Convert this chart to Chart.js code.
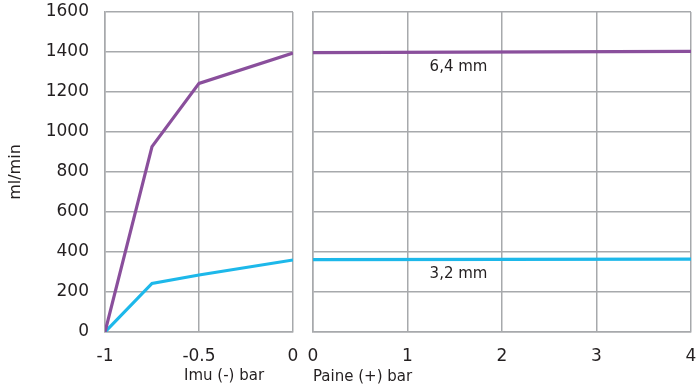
<!DOCTYPE html>
<html><head><meta charset="utf-8">
<script src="https://cdn.jsdelivr.net/npm/chart.js@4.4.1/dist/chart.umd.min.js"></script>
<style>
html,body{margin:0;padding:0;background:#fff;}
#wrap{position:relative;width:698px;height:389px;overflow:hidden;}
#c1{position:absolute;left:0;top:0;}
#c2{position:absolute;left:300px;top:0;}
#imu{position:absolute;left:184px;top:366px;font:15px "DejaVu Sans",sans-serif;color:#231f20;white-space:nowrap;line-height:18px;}
</style>
</head><body>
<div id="wrap">
<canvas id="c1" width="300" height="389"></canvas>
<canvas id="c2" width="398" height="389"></canvas>
<div id="imu">Imu (-) bar</div>
</div>
<script>
// ---- data ----
const vacuumX = [-1, -0.75, -0.5, 0];           // Imu (-) bar
const vacuum64 = [0, 927, 1243, 1395];          // 6,4 mm, ml/min
const vacuum32 = [0, 243, 285, 360];            // 3,2 mm, ml/min
const pressureX = [0, 4];                        // Paine (+) bar
const pressure64 = [1397, 1403];
const pressure32 = [362, 364];
const seriesNames = ['6,4 mm', '3,2 mm'];
const yTicks = [0, 200, 400, 600, 800, 1000, 1200, 1400, 1600];
const leftXTicks = [-1, -0.5, 0];
const rightXTicks = [0, 1, 2, 3, 4];

const PURPLE = '#8a4f9c';
const CYAN = '#1db8ea';
const GRID = '#a7a9ac';
const TXT = '#231f20';
const tickFont = {family: '"DejaVu Sans", sans-serif', size: 17};

function pts(xs, ys){ return xs.map((x,i)=>({x:x, y:ys[i]})); }
function noPad(s){ s.paddingTop = 0; s.paddingBottom = 0; s.paddingLeft = 0; s.paddingRight = 0; }

const labelPlugin = {
  id: 'seriesLabels',
  afterDatasetsDraw(chart, args, opts){
    if(!opts.items) return;
    const ctx = chart.ctx;
    ctx.save();
    ctx.font = '15px "DejaVu Sans", sans-serif';
    ctx.fillStyle = TXT;
    ctx.textAlign = 'center';
    ctx.textBaseline = 'middle';
    opts.items.forEach(it=>{
      ctx.fillText(it.text, chart.scales.x.getPixelForValue(it.x), chart.scales.y.getPixelForValue(it.y));
    });
    ctx.restore();
  }
};

const lineDs = (label, data, color) => ({
  label, data, borderColor: color, backgroundColor: color,
  borderWidth: 3.2, pointRadius: 0, tension: 0, fill: false
});

new Chart(document.getElementById('c1'), {
  type: 'line',
  data: { datasets: [lineDs(seriesNames[0], pts(vacuumX, vacuum64), PURPLE), lineDs(seriesNames[1], pts(vacuumX, vacuum32), CYAN)] },
  options: {
    responsive: false, animation: false,
    layout: { padding: { top: 12, right: 7, left: 0, bottom: 0 } },
    plugins: { legend: {display:false}, tooltip: {enabled:false} },
    scales: {
      x: {
        type: 'linear', min: -1, max: 0,
        afterBuildTicks: s => { s.ticks = leftXTicks.map(v=>({value:v})); },
        afterFit: s => { s.height = 57; noPad(s); },
        ticks: { color: TXT, font: tickFont, padding: 14, maxRotation: 0,
                 callback: v => String(v) },
        grid: { color: GRID, lineWidth: 1.5, drawTicks: false },
        border: { color: GRID, width: 1.5 }
      },
      y: {
        min: 0, max: 1600,
        afterBuildTicks: s => { s.ticks = yTicks.map(v=>({value:v})); },
        afterFit: s => { s.width = 105; noPad(s); },
        ticks: { color: TXT, font: tickFont, padding: 16, callback: v => String(v) },
        grid: { color: GRID, lineWidth: 1.5, drawTicks: false },
        border: { color: GRID, width: 1.5 },
        title: { display: true, text: 'ml/min', color: TXT, font: {family: '"DejaVu Sans", sans-serif', size: 16}, padding: {top: 6, bottom: 0} }
      }
    }
  }
});

new Chart(document.getElementById('c2'), {
  type: 'line',
  data: { datasets: [lineDs(seriesNames[0], pts(pressureX, pressure64), PURPLE), lineDs(seriesNames[1], pts(pressureX, pressure32), CYAN)] },
  plugins: [labelPlugin],
  options: {
    responsive: false, animation: false,
    layout: { padding: { top: 12, right: 7, left: 0, bottom: 0 } },
    plugins: { legend: {display:false}, tooltip: {enabled:false},
      seriesLabels: { items: [ {text: seriesNames[0], x: 1.54, y: 1325}, {text: seriesNames[1], x: 1.54, y: 290} ] } },
    scales: {
      x: {
        type: 'linear', min: 0, max: 4,
        afterBuildTicks: s => { s.ticks = rightXTicks.map(v=>({value:v})); },
        afterFit: s => { s.height = 57; noPad(s); },
        ticks: { color: TXT, font: tickFont, padding: 14, maxRotation: 0, callback: v => String(v) },
        grid: { color: GRID, lineWidth: 1.5, drawTicks: false },
        border: { color: GRID, width: 1.5 },
        title: { display: true, text: 'Paine (+) bar', align: 'start', color: TXT,
                 font: {family: '"DejaVu Sans", sans-serif', size: 15}, padding: {top: 0, bottom: 3} }
      },
      y: {
        min: 0, max: 1600,
        afterBuildTicks: s => { s.ticks = yTicks.map(v=>({value:v})); },
        afterFit: s => { s.width = 13; noPad(s); },
        ticks: { display: false },
        grid: { color: GRID, lineWidth: 1.5, drawTicks: false },
        border: { color: GRID, width: 1.5 }
      }
    }
  }
});
</script>
</body></html>
